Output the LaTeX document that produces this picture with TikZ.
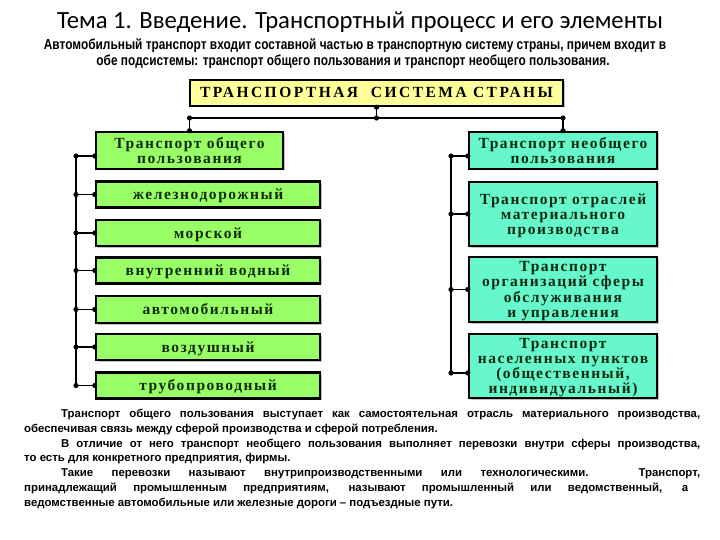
\documentclass[tikz,border=0pt]{standalone}
\usepackage{fontspec}
\setmainfont{Liberation Serif}
\newfontfamily\titlefont{Carlito}
\newfontfamily\subfont[FakeStretch=0.82]{Liberation Sans}
\newfontfamily\bodyfont{Liberation Sans}
\newfontfamily\boxfont[LetterSpace=10]{Liberation Serif}
\newfontfamily\headfont[LetterSpace=16]{Liberation Serif}
\usetikzlibrary{shadows}
\definecolor{lgreen}{HTML}{99FF66}
\definecolor{aqua}{HTML}{66F8CC}
\definecolor{yel}{HTML}{FFFF99}
\definecolor{boxtext}{HTML}{0F2A0F}
\tikzset{
  box/.style={draw=black, line width=2.5pt, inner sep=0pt,
    font=\boxfont\bfseries\fontsize{15.5}{15}\selectfont, text=boxtext,
    drop shadow={shadow xshift=1.5pt, shadow yshift=-1.5pt, fill=black!40, opacity=0.6}},
  gbox/.style={box, fill=lgreen, minimum height=26pt},
  abox/.style={box, fill=aqua},
  wire/.style={line width=1.3pt},
  bodytext/.style={font=\bodyfont\bfseries\fontsize{11.4}{13}\selectfont, inner sep=0pt, anchor=base west},
}
\newcommand{\jdot}[1]{\fill (#1) circle (2.6pt);}
\newcommand{\bt}[1]{\raisebox{-2pt}[\height][\depth]{\begin{tabular}{@{}c@{}}#1\end{tabular}}}
\begin{document}
\begin{tikzpicture}[x=1pt,y=-1pt]
\useasboundingbox (0,0) rectangle (720,540);
\fill[white] (0,0) rectangle (720,540);

% title and subtitle
\node[font=\titlefont\fontsize{24.7}{28}\selectfont, anchor=base, inner sep=0pt] (title) at (360,28.5) {Тема 1. Введение. Транспортный процесс и его элементы};
\node[font=\subfont\bfseries\fontsize{14.5}{16}\selectfont, anchor=base, inner sep=0pt] (sub1) at (355,50) {Автомобильный транспорт входит составной частью в транспортную систему страны, причем входит в};
\node[font=\subfont\bfseries\fontsize{14.5}{16}\selectfont, anchor=base, inner sep=0pt] (sub2) at (353,66) {обе подсистемы: транспорт общего пользования и транспорт необщего пользования.};

% top box
\node[box, fill=yel, minimum width=373pt, minimum height=26pt, text=black,
      font=\headfont\bfseries\fontsize{15.5}{15}\selectfont] (top) at (376.5,93) {\bt{ТРАНСПОРТНАЯ\ \ СИСТЕМА СТРАНЫ}};

% left column
\node[gbox, minimum width=187pt, minimum height=37pt] (L1) at (189.5,150.5) {\bt{Транспорт общего\\пользования}};
\node[gbox, minimum width=224pt] (L2) at (208,194.5) {\bt{железнодорожный}};
\node[gbox, minimum width=224pt] (L3) at (208,233) {\bt{морской}};
\node[gbox, minimum width=224pt] (L4) at (208,270.5) {\bt{внутренний водный}};
\node[gbox, minimum width=224pt, minimum height=27pt] (L5) at (208,309.5) {\bt{автомобильный}};
\node[gbox, minimum width=224pt] (L6) at (208,347) {\bt{воздушный}};
\node[gbox, minimum width=224pt] (L7) at (208,385.5) {\bt{трубопроводный}};

% right column
\node[abox, minimum width=188pt, minimum height=37pt] (R1) at (563,150.5) {\bt{Транспорт необщего\\пользования}};
\node[abox, minimum width=188pt, minimum height=64pt] (R2) at (563,214) {\bt{Транспорт отраслей\\материального\\производства}};
\node[abox, minimum width=188pt, minimum height=65pt] (R3) at (563,289.5) {\bt{Транспорт\\организаций сферы\\обслуживания\\и управления}};
\node[abox, minimum width=188pt, minimum height=64pt] (R4) at (563,366) {\bt{Транспорт\\населенных пунктов\\(общественный,\\индивидуальный)}};

% top connectors
\coordinate (tA) at (376.5,118);
\coordinate (tL) at (189.5,118);
\coordinate (tR) at (563,118);
\draw[wire] (top.south) -- (tA);
\draw[wire] (tL) -- (tR);
\draw[wire] (tL) -- (L1.north);
\draw[wire] (tR) -- (R1.north);
\jdot{top.south}\jdot{tA}\jdot{tL}\jdot{tR}\jdot{L1.north}\jdot{R1.north}

% left bus
\coordinate (lb1) at (76,156);
\coordinate (lb2) at (76,194.5);
\coordinate (lb3) at (76,233);
\coordinate (lb4) at (76,270.5);
\coordinate (lb5) at (76,309.5);
\coordinate (lb6) at (76,347);
\coordinate (lb7) at (76,385.5);
\draw[wire] (lb1) -- (lb7);
\foreach \i in {1,...,7}{
  \draw[wire] (lb\i) -- (L\i.west |- lb\i);
  \fill (lb\i) circle (2.6pt);
  \fill (L\i.west |- lb\i) circle (2.6pt);
}

% right bus
\coordinate (rb1) at (451,156);
\coordinate (rb2) at (451,214);
\coordinate (rb3) at (451,289.5);
\coordinate (rb4) at (451,373);
\draw[wire] (rb1) -- (rb4);
\foreach \i in {1,...,4}{
  \draw[wire] (rb\i) -- (R\i.west |- rb\i);
  \fill (rb\i) circle (2.6pt);
  \fill (R\i.west |- rb\i) circle (2.6pt);
}

% body text
\node[bodytext] (p1) at (61,417) {\makebox[639pt][s]{Транспорт общего пользования выступает как самостоятельная отрасль материального производства,}};
\node[bodytext] (p2) at (24,432) {обеспечивая связь между сферой производства и сферой потребления.};
\node[bodytext] (p3) at (61,447) {\makebox[639pt][s]{В отличие от него транспорт необщего пользования выполняет перевозки внутри сферы производства,}};
\node[bodytext] (p4) at (24,461) {то есть для конкретного предприятия, фирмы.};
\node[bodytext] (p5) at (61,476) {\makebox[639pt][s]{Такие перевозки называют внутрипроизводственными или технологическими. Транспорт,}};
\node[bodytext] (p6) at (24,491) {\makebox[664pt][s]{принадлежащий промышленным предприятиям, называют промышленный или ведомственный, а}};
\node[bodytext] (p7) at (24,506) {ведомственные автомобильные или железные дороги – подъездные пути.};
\end{tikzpicture}
\end{document}
